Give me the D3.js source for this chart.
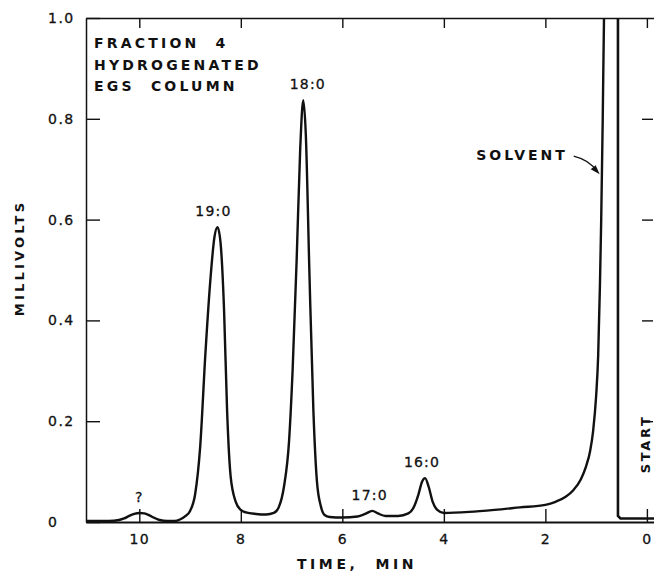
<!DOCTYPE html>
<html lang="en">
<head>
    <meta charset="utf-8">
    <title>Fraction 4 chromatogram</title>
    <script type="text/javascript" src="https://d3js.org/d3.v7.min.js"></script>
    <style>
     body { margin: 0; background: white; }
     svg text { font-family: "DejaVu Sans", sans-serif; fill: #111; white-space: pre; }
     .tick text { font-size: 14px; letter-spacing: 1.5px; stroke: #111; stroke-width: 0.3px; }
     .note { font-size: 14px; font-weight: bold; letter-spacing: 3.2px; }
     .peak { font-size: 14px; letter-spacing: 1.2px; stroke: #111; stroke-width: 0.3px; }
    </style>
</head>
<body>
    <div id="chart"></div>
    <script type="text/javascript">
        // trace (time runs right to left)
        const traceTimes = [11.05, 10.6, 10.4, 10.3, 10.2, 10.1, 10.0, 9.9, 9.8, 9.7, 9.6, 9.45, 9.3, 9.2, 9.1, 9.0,
            8.9, 8.8, 8.7, 8.6, 8.52, 8.46, 8.4, 8.33, 8.27, 8.2, 8.1, 8.0, 7.9, 7.7, 7.5, 7.35, 7.25, 7.15, 7.05,
            6.98, 6.9, 6.83, 6.77, 6.72, 6.65, 6.57, 6.5, 6.42, 6.35, 6.25, 6.0, 5.7, 5.55, 5.41, 5.3, 5.15, 4.9,
            4.7, 4.6, 4.5, 4.43, 4.37, 4.3, 4.22, 4.13, 4.0, 3.5, 3.0, 2.5, 2.0, 1.8, 1.6, 1.45, 1.3, 1.2, 1.12,
            1.06, 1.0, 0.96, 0.925, 0.9, 0.87, 0.845, 0.82];
        const traceValues = [0.002, 0.002, 0.004, 0.007, 0.012, 0.016, 0.018, 0.017, 0.013, 0.008, 0.004, 0.002, 0.002, 0.005, 0.011, 0.022,
            0.055, 0.15, 0.33, 0.48, 0.565, 0.585, 0.555, 0.42, 0.22, 0.09, 0.04, 0.024, 0.019, 0.016, 0.015, 0.018, 0.03, 0.07, 0.16,
            0.3, 0.52, 0.74, 0.837, 0.77, 0.5, 0.22, 0.08, 0.03, 0.014, 0.01, 0.009, 0.011, 0.016, 0.022, 0.017, 0.012, 0.012,
            0.017, 0.028, 0.055, 0.08, 0.087, 0.07, 0.04, 0.024, 0.018, 0.02, 0.024, 0.029, 0.034, 0.04, 0.05, 0.063, 0.085, 0.11, 0.14,
            0.18, 0.25, 0.33, 0.47, 0.6, 0.8, 1.0, 1.08];

        // pen at injection: drops from off scale to the baseline
        const startTimes = [0.57, 0.57, 0.52, -0.2];
        const startValues = [1.08, 0.012, 0.007, 0.007];

        const xTicks = [10, 8, 6, 4, 2, 0];
        const yTicks = [0, 0.2, 0.4, 0.6, 0.8, 1.0];

        const peakNames = ["?", "19:0", "18:0", "17:0", "16:0"];
        const peakTimes = [10, 8.54, 6.68, 5.46, 4.43];
        const peakHeights = [0.018, 0.585, 0.837, 0.022, 0.087];

        const noteLines = ["FRACTION  4", "HYDROGENATED", "EGS  COLUMN"];

        const width = 654;
        const height = 576;
        const marginLeft = 86;
        const marginTop = 18;
        const plotBottom = 522;

        const svg = d3.select("#chart")
            .append("svg")
            .attr("width", width)
            .attr("height", height);

        const x = d3.scaleLinear()
            .domain([11.05, -0.14])
            .range([marginLeft, width]);

        const y = d3.scaleLinear()
            .domain([0, 1])
            .range([plotBottom, marginTop]);

        svg.append("clipPath")
            .attr("id", "plot")
            .append("rect")
            .attr("x", marginLeft)
            .attr("y", marginTop)
            .attr("width", width - marginLeft)
            .attr("height", plotBottom - marginTop);

        // axes (ticks point inward like the chart paper)
        const fmt = d => d === 0 ? "0" : d.toFixed(1);

        svg.append("g")
            .attr("transform", "translate(" + marginLeft + ",0)")
            .call(d3.axisLeft(y).tickValues(yTicks).tickFormat(fmt).tickSizeInner(-14).tickSizeOuter(0))
            .call(g => g.selectAll(".tick text").attr("x", -38).attr("text-anchor", "start"));

        svg.append("g")
            .attr("class", "right")
            .attr("transform", "translate(" + (width - 1) + ",0)")
            .call(d3.axisRight(y).tickValues(yTicks.slice(1, 5)).tickFormat("").tickSizeInner(-11).tickSizeOuter(0))
            .call(g => g.select(".domain").remove());

        svg.append("g")
            .attr("transform", "translate(0," + marginTop + ")")
            .call(d3.axisTop(x).tickValues(xTicks).tickFormat("").tickSizeInner(-10).tickSizeOuter(0));

        svg.append("g")
            .attr("class", "xaxis")
            .attr("transform", "translate(0," + plotBottom + ")")
            .call(d3.axisBottom(x).tickValues(xTicks).tickFormat(d3.format("d")).tickSizeInner(-13).tickSizeOuter(0).tickPadding(12))
            .call(g => g.select(".domain").attr("stroke-width", 2.2));

        svg.selectAll(".domain").attr("stroke", "#111").attr("stroke-width", function() {
            return d3.select(this).attr("stroke-width") || 1.5;
        });
        svg.selectAll(".tick line").attr("stroke", "#111").attr("stroke-width", 1.4);

        // trace
        const trace = traceTimes.map((t, i) => [t, traceValues[i]]);
        const start = startTimes.map((t, i) => [t, startValues[i]]);

        const line = d3.line()
            .x(d => x(d[0]))
            .y(d => y(d[1]))
            .curve(d3.curveMonotoneX);

        svg.append("path")
            .datum(trace)
            .attr("clip-path", "url(#plot)")
            .attr("fill", "none")
            .attr("stroke", "#111")
            .attr("stroke-width", 2.4)
            .attr("stroke-linejoin", "round")
            .attr("d", line);

        svg.append("path")
            .datum(start)
            .attr("clip-path", "url(#plot)")
            .attr("fill", "none")
            .attr("stroke", "#111")
            .attr("stroke-width", 2.6)
            .attr("d", d3.line().x(d => x(d[0])).y(d => y(d[1])).curve(d3.curveLinear));

        // labels
        svg.selectAll(".peak")
            .data(peakNames)
            .enter()
            .append("text")
            .attr("class", "peak")
            .attr("x", (d, i) => x(peakTimes[i]))
            .attr("y", (d, i) => y(peakHeights[i]) - 11)
            .attr("text-anchor", "middle")
            .text(d => d);

        svg.selectAll(".noteline")
            .data(noteLines)
            .enter()
            .append("text")
            .attr("class", "note")
            .attr("x", 94)
            .attr("y", (d, i) => 48 + i * 21.5)
            .text(d => d);

        svg.append("text")
            .attr("class", "note")
            .attr("x", 522)
            .attr("y", 160)
            .attr("text-anchor", "middle")
            .style("letter-spacing", "3px")
            .text("SOLVENT");

        // arrow to the solvent tail
        const tipX = x(0.93), tipY = y(0.69);
        svg.append("path")
            .attr("d", "M" + (tipX - 26) + "," + (tipY - 18) + " Q" + (tipX - 10) + "," + (tipY - 14) + " " + (tipX - 3) + "," + (tipY - 3))
            .attr("fill", "none")
            .attr("stroke", "#111")
            .attr("stroke-width", 1.3);
        svg.append("path")
            .attr("d", "M" + tipX + "," + tipY + " L" + (tipX - 9) + "," + (tipY - 5) + " L" + (tipX - 4) + "," + (tipY - 9) + " Z")
            .attr("fill", "#111");

        svg.append("text")
            .attr("class", "note")
            .attr("transform", "translate(" + 645 + "," + y(0.155) + ") rotate(-90)")
            .attr("text-anchor", "middle")
            .attr("dy", "0.35em")
            .style("font-size", "13px")
            .style("letter-spacing", "2.6px")
            .text("START");

        svg.append("text")
            .attr("class", "note")
            .attr("transform", "translate(19,258) rotate(-90)")
            .attr("text-anchor", "middle")
            .attr("dy", "0.35em")
            .style("font-size", "13px")
            .style("letter-spacing", "3.2px")
            .text("MILLIVOLTS");

        svg.append("text")
            .attr("class", "note")
            .attr("x", 357)
            .attr("y", 569)
            .attr("text-anchor", "middle")
            .style("letter-spacing", "3.6px")
            .text("TIME,  MIN");
    </script>
</body>
</html>
